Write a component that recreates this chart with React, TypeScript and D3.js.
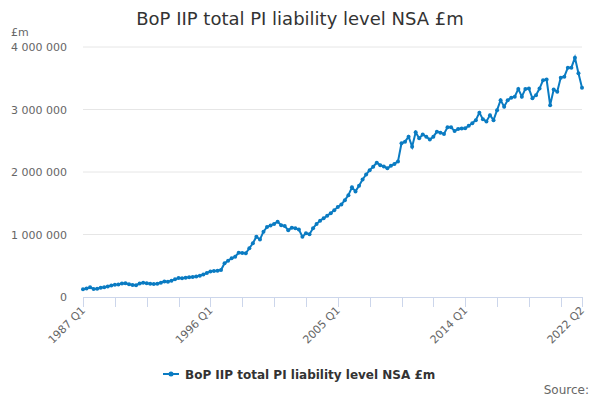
import React, { useRef, useEffect } from 'react';
import * as d3 from 'd3';

// quarterly values, £m, 1987 Q1 .. 2022 Q2
const startYear = 1987;
const liabilities = [
  125000, 135000, 155000, 130000, 133000, 148000, 158000, 170000, 185000, 195000,
  202000, 215000, 220000, 205000, 192000, 190000, 215000, 228000, 220000, 212000,
  207000, 213000, 228000, 250000, 245000, 262000, 283000, 305000, 300000, 310000,
  315000, 320000, 330000, 340000, 360000, 385000, 410000, 418000, 420000, 432000,
  540000, 580000, 620000, 645000, 710000, 705000, 700000, 780000, 860000, 965000,
  920000, 1045000, 1120000, 1145000, 1170000, 1205000, 1150000, 1135000, 1070000, 1110000,
  1100000, 1080000, 965000, 1020000, 1005000, 1100000, 1170000, 1220000, 1260000, 1300000,
  1340000, 1390000, 1440000, 1480000, 1550000, 1630000, 1755000, 1690000, 1780000, 1880000,
  1960000, 2030000, 2085000, 2150000, 2110000, 2090000, 2060000, 2100000, 2130000, 2170000,
  2460000, 2485000, 2565000, 2405000, 2635000, 2540000, 2600000, 2565000, 2520000, 2565000,
  2645000, 2630000, 2610000, 2715000, 2715000, 2655000, 2690000, 2695000, 2700000, 2740000,
  2780000, 2830000, 2950000, 2845000, 2810000, 2910000, 2830000, 2990000, 3150000, 3045000,
  3150000, 3190000, 3205000, 3330000, 3205000, 3330000, 3335000, 3180000, 3230000, 3335000,
  3470000, 3480000, 3070000, 3320000, 3285000, 3510000, 3525000, 3670000, 3670000, 3830000,
  3580000, 3350000,
];
const yTicks = [0, 1000000, 2000000, 3000000, 4000000];
const seriesName = 'BoP IIP total PI liability level NSA £m';

const quarterLabel = (i: number) => `${startYear + Math.floor(i / 4)} Q${(i % 4) + 1}`;

const App: React.FC = () => {
  const svgRef = useRef<SVGSVGElement | null>(null);
  const width = 600;
  const height = 400;

  useEffect(() => {
    const svg = d3.select(svgRef.current);
    svg.selectAll('*').remove();

    const font = '"DejaVu Sans", Verdana, sans-serif';
    const left = 83, right = 582, top = 47, bottom = 297;
    const last = liabilities.length - 1;

    const x = d3.scaleLinear().domain([0, last]).range([left, right]);
    const y = d3.scaleLinear().domain([0, 4000000]).range([bottom, top]);

    svg.append('text')
      .attr('x', width / 2).attr('y', 25)
      .attr('text-anchor', 'middle')
      .attr('font-family', font).attr('font-size', 18)
      .attr('fill', '#333')
      .text(seriesName);

    // gridlines
    svg.append('g').selectAll('line')
      .data(yTicks.filter(t => t > 0))
      .join('line')
      .attr('x1', left).attr('x2', right)
      .attr('y1', d => y(d)).attr('y2', d => y(d))
      .attr('stroke', '#e6e6e6');

    const fmt = (v: number) => d3.format(',')(v).replace(/,/g, ' ');
    svg.append('g').selectAll('text')
      .data(yTicks)
      .join('text')
      .attr('x', 67).attr('y', d => y(d) + 4)
      .attr('text-anchor', 'end')
      .attr('font-family', font).attr('font-size', 11)
      .attr('fill', '#666')
      .text(d => fmt(d));

    svg.append('text')
      .attr('x', 11).attr('y', 36)
      .attr('font-family', font).attr('font-size', 11)
      .attr('fill', '#666')
      .text('£m');

    // x axis
    svg.append('line')
      .attr('x1', left).attr('x2', right + 1)
      .attr('y1', bottom + 0.5).attr('y2', bottom + 0.5)
      .attr('stroke', '#ccd6eb');

    const tickIdx = d3.range(0, last, 9).concat([last]);
    svg.append('g').selectAll('line')
      .data(tickIdx)
      .join('line')
      .attr('x1', d => Math.round(x(d)) + 0.5).attr('x2', d => Math.round(x(d)) + 0.5)
      .attr('y1', bottom).attr('y2', bottom + 10)
      .attr('stroke', '#ccd6eb');

    const labelIdx = [0, 36, 72, 108, last];
    svg.append('g').selectAll('text')
      .data(labelIdx)
      .join('text')
      .attr('transform', d => `translate(${x(d) + 3},${bottom + 14}) rotate(-45)`)
      .attr('text-anchor', 'end')
      .attr('font-family', font).attr('font-size', 11)
      .attr('fill', '#666')
      .text(d => quarterLabel(d));

    const colour = '#0a7bc2';
    const line = d3.line<number>()
      .x((_, i) => x(i))
      .y(d => y(d));

    svg.append('path')
      .datum(liabilities)
      .attr('d', line)
      .attr('fill', 'none')
      .attr('stroke', colour)
      .attr('stroke-width', 2);

    svg.append('g').selectAll('circle')
      .data(liabilities)
      .join('circle')
      .attr('cx', (_, i) => x(i))
      .attr('cy', d => y(d))
      .attr('r', 2)
      .attr('fill', colour);

    // legend
    const lg = svg.append('g').attr('transform', 'translate(163,374)');
    lg.append('line')
      .attr('x1', 0).attr('x2', 16)
      .attr('y1', 0).attr('y2', 0)
      .attr('stroke', colour).attr('stroke-width', 2);
    lg.append('circle').attr('cx', 8).attr('cy', 0).attr('r', 2.5).attr('fill', colour);
    lg.append('text')
      .attr('x', 22).attr('y', 4.5)
      .attr('font-family', font).attr('font-size', 12).attr('font-weight', 'bold')
      .attr('fill', '#333')
      .text(seriesName);

    svg.append('text')
      .attr('x', 589).attr('y', 394)
      .attr('text-anchor', 'end')
      .attr('font-family', font).attr('font-size', 12)
      .attr('fill', '#666')
      .text('Source:');
  }, []);

  return (
    <svg
      ref={svgRef}
      width={width}
      height={height}
      style={{ position: 'absolute', left: 0, top: 0, background: '#fff' }}
    />
  );
};

export default App;
